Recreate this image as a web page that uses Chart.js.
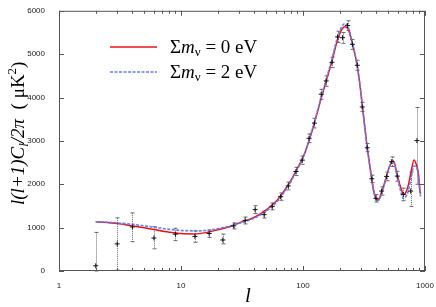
<!DOCTYPE html>
<html>
<head>
<meta charset="utf-8">
<script src="https://cdn.jsdelivr.net/npm/chart.js@4.4.1/dist/chart.umd.min.js"></script>
<style>
  body { margin: 0; background: #fff; }
  #wrap { width: 436px; height: 307px; }
</style>
</head>
<body>
<div id="wrap"><canvas id="cmbChart" width="436" height="307"></canvas></div>
<script>
// theory curves (multipole l and D_l in uK^2)
const curveL = [2, 3, 4, 5, 6, 8, 10, 13, 16, 20, 25, 30, 40, 50, 60, 70, 80, 90, 100, 112, 125, 141, 155, 173, 192, 207, 220, 235, 251, 267, 280, 293, 306, 322, 336, 350, 366, 380, 396, 407, 420, 441, 463, 485, 510, 533, 543, 560, 593, 620, 644, 664, 690, 730, 770, 813, 850, 881, 910, 920];
const redVals = [1135, 1095, 1040, 995, 955, 895, 862, 855, 885, 950, 1020, 1110, 1240, 1410, 1600, 1845, 2100, 2370, 2620, 3000, 3450, 3980, 4380, 4850, 5330, 5560, 5630, 5570, 5300, 4990, 4680, 4290, 3830, 3290, 2850, 2500, 2130, 1850, 1680, 1640, 1660, 1820, 2000, 2200, 2400, 2520, 2540, 2500, 2210, 2000, 1860, 1760, 1790, 1980, 2300, 2560, 2450, 2270, 1850, 1780];
const blueVals = [1135, 1110, 1075, 1040, 1010, 960, 935, 925, 935, 975, 1035, 1100, 1220, 1380, 1570, 1815, 2075, 2350, 2610, 3010, 3470, 4010, 4420, 4900, 5400, 5630, 5700, 5620, 5320, 5000, 4690, 4290, 3820, 3270, 2830, 2480, 2100, 1820, 1650, 1620, 1640, 1790, 1980, 2190, 2400, 2520, 2530, 2480, 2160, 1930, 1760, 1670, 1700, 1850, 2150, 2420, 2400, 2200, 1800, 1720];

// measured band powers with error bars
const ptL  = [2, 3, 4, 6, 9, 13, 17, 22, 27, 33.5, 40.5, 48, 56, 65.6, 75.8, 87.7, 98.7, 112, 124, 141, 155, 173, 192, 211, 232, 254, 279, 306, 336, 366, 396, 441, 485, 533, 593, 664, 763, 859];
const ptV  = [120, 625, 1015, 760, 850, 797, 865, 715, 1040, 1165, 1415, 1300, 1490, 1715, 1962, 2294, 2556, 3060, 3410, 4076, 4383, 4812, 5398, 5380, 5662, 5227, 4744, 3783, 2842, 2127, 1676, 1843, 2181, 2520, 2188, 1766, 1843, 3007];
const ptLo = [0, 20, 677, 512, 700, 662, 775, 625, 970, 1085, 1325, 1220, 1410, 1630, 1870, 2200, 2460, 2960, 3300, 3960, 4260, 4690, 5270, 5250, 5550, 5110, 4630, 3680, 2750, 2040, 1590, 1750, 2080, 2410, 2070, 1620, 1490, 2000];
const ptHi = [890, 1225, 1340, 1022, 985, 925, 940, 850, 1110, 1245, 1505, 1380, 1570, 1800, 2050, 2390, 2650, 3160, 3520, 4190, 4500, 4930, 5530, 5500, 5770, 5340, 4860, 3890, 2940, 2210, 1760, 1940, 2280, 2630, 2300, 1910, 2280, 3770];

// axis ticks
const xTickVals = [1, 2, 3, 4, 5, 6, 7, 8, 9, 10, 20, 30, 40, 50, 60, 70, 80, 90, 100, 200, 300, 400, 500, 600, 700, 800, 900, 1000];
const xTickLabels = ['1', '10', '100', '1000'];
const yTickVals = [0, 1000, 2000, 3000, 4000, 5000, 6000];

const RED = 'rgb(232, 20, 20)';
const BLUE = 'rgb(95, 125, 245)';

function toXY(xs, ys) {
    return xs.map(function(x, i) { return { x: x, y: ys[i] }; });
}

// error bars under the points
const errorBars = {
    id: 'errorBars',
    beforeDatasetsDraw(chart) {
        const ctx = chart.ctx, x = chart.scales.x, y = chart.scales.y;
        ctx.save();
        ctx.strokeStyle = 'rgba(70, 70, 70, 0.8)';
        ctx.lineWidth = 1;
        for (let i = 0; i < ptL.length; i++) {
            const px = Math.round(x.getPixelForValue(ptL[i])) + 0.5;
            const top = y.getPixelForValue(ptHi[i]);
            const bot = y.getPixelForValue(ptLo[i]);
            ctx.setLineDash([1, 1]);
            ctx.beginPath();
            ctx.moveTo(px, top);
            ctx.lineTo(px, bot);
            ctx.stroke();
            ctx.setLineDash([]);
            ctx.beginPath();
            ctx.moveTo(px - 2, top); ctx.lineTo(px + 2, top);
            ctx.moveTo(px - 2, bot); ctx.lineTo(px + 2, bot);
            ctx.stroke();
        }
        ctx.restore();
    }
};

// frame, inward ticks, legend and axis titles
const decorations = {
    id: 'decorations',
    afterDraw(chart) {
        const ctx = chart.ctx, a = chart.chartArea;
        const x = chart.scales.x, y = chart.scales.y;
        ctx.save();
        ctx.strokeStyle = '#555';
        ctx.lineWidth = 1;
        ctx.strokeRect(a.left + 0.5, a.top + 0.5, a.right - a.left - 1, a.bottom - a.top - 1);
        ctx.beginPath();
        x.ticks.forEach(function(t) {
            const px = Math.round(x.getPixelForValue(t.value)) + 0.5;
            const major = Math.abs(Math.log10(t.value) % 1) < 1e-9;
            const len = major ? 5 : 3;
            ctx.moveTo(px, a.bottom); ctx.lineTo(px, a.bottom - len);
            ctx.moveTo(px, a.top); ctx.lineTo(px, a.top + len);
        });
        y.ticks.forEach(function(t) {
            const py = Math.round(y.getPixelForValue(t.value)) + 0.5;
            ctx.moveTo(a.left, py); ctx.lineTo(a.left + 5, py);
            ctx.moveTo(a.right, py); ctx.lineTo(a.right - 5, py);
        });
        ctx.stroke();

        // legend
        const rows = [
            { color: RED, dash: [], text: '0 eV', y: 47 },
            { color: BLUE, dash: [3, 1.5], text: '2 eV', y: 72 }
        ];
        rows.forEach(function(r) {
            ctx.strokeStyle = r.color;
            ctx.lineWidth = 1.5;
            ctx.setLineDash(r.dash);
            ctx.beginPath();
            ctx.moveTo(110, r.y); ctx.lineTo(157, r.y);
            ctx.stroke();
            ctx.setLineDash([]);
            ctx.fillStyle = '#000';
            ctx.textBaseline = 'alphabetic';
            ctx.textAlign = 'left';
            let cx = 170;
            const base = r.y + 6;
            ctx.font = '19px "Liberation Serif"';
            ctx.fillText('\u03A3', cx, base); cx += ctx.measureText('\u03A3').width;
            ctx.font = 'italic 19px "Liberation Serif"';
            ctx.fillText('m', cx, base); cx += ctx.measureText('m').width;
            ctx.font = '13px "Liberation Serif"';
            ctx.fillText('\u03BD', cx, base + 3); cx += ctx.measureText('\u03BD').width;
            ctx.font = '19px "Liberation Serif"';
            ctx.fillText(' = ' + r.text, cx, base);
        });

        // x title
        ctx.font = 'italic 21px "Liberation Serif"';
        ctx.textAlign = 'center';
        ctx.fillText('l', 248, 302);

        // y title (rotated)
        ctx.translate(24, 205);
        ctx.rotate(-Math.PI / 2);
        ctx.textAlign = 'left';
        const parts = [
            { t: 'l(l+1)C', f: 'italic 19px "Liberation Serif"', dy: 0 },
            { t: 'l', f: 'italic 13px "Liberation Serif"', dy: 4 },
            { t: '/2\u03C0', f: 'italic 19px "Liberation Serif"', dy: 0 },
            { t: '  ( \u03BCK', f: '19px "Liberation Serif"', dy: 0 },
            { t: '2', f: '13px "Liberation Serif"', dy: -8 },
            { t: ')', f: '19px "Liberation Serif"', dy: 0 }
        ];
        let tx = 0;
        parts.forEach(function(p) {
            ctx.font = p.f;
            ctx.fillText(p.t, tx, p.dy);
            tx += ctx.measureText(p.t).width;
        });
        ctx.restore();
    }
};

const ctx = document.getElementById('cmbChart').getContext('2d');
new Chart(ctx, {
    type: 'scatter',
    data: {
        datasets: [
            {
                label: 'data',
                data: toXY(ptL, ptV),
                pointStyle: 'cross',
                pointRadius: 2.5,
                borderColor: '#111',
                borderWidth: 1,
                showLine: false,
                order: 0
            },
            {
                label: '\u03A3m\u03BD = 2 eV',
                data: toXY(curveL, blueVals),
                showLine: true,
                borderColor: BLUE,
                borderWidth: 1.6,
                borderDash: [3, 1.5],
                pointRadius: 0,
                cubicInterpolationMode: 'monotone',
                order: 1
            },
            {
                label: '\u03A3m\u03BD = 0 eV',
                data: toXY(curveL, redVals),
                showLine: true,
                borderColor: RED,
                borderWidth: 1.5,
                pointRadius: 0,
                cubicInterpolationMode: 'monotone',
                order: 2
            }
        ]
    },
    options: {
        responsive: false,
        animation: false,
        layout: { padding: { top: 5, right: 11, left: 0, bottom: 0 } },
        plugins: {
            legend: { display: false },
            tooltip: { enabled: false }
        },
        scales: {
            x: {
                type: 'logarithmic',
                min: 1,
                max: 1000,
                afterBuildTicks: function(s) {
                    s.ticks = xTickVals.map(function(v) { return { value: v }; });
                },
                afterFit: function(s) { s.height = 36; },
                grid: { display: false },
                border: { display: false },
                ticks: {
                    autoSkip: false,
                    maxRotation: 0,
                    padding: 2,
                    color: '#222',
                    font: { family: 'Liberation Sans', size: 8 },
                    callback: function(v) {
                        const i = [1, 10, 100, 1000].indexOf(v);
                        return i >= 0 ? xTickLabels[i] : '';
                    }
                }
            },
            y: {
                min: 0,
                max: 6000,
                afterBuildTicks: function(s) {
                    s.ticks = yTickVals.map(function(v) { return { value: v }; });
                },
                afterFit: function(s) { s.width = 59; },
                grid: { display: false },
                border: { display: false },
                ticks: {
                    padding: 6,
                    color: '#222',
                    font: { family: 'Liberation Sans', size: 8 },
                    callback: function(v) { return String(v); }
                }
            }
        }
    },
    plugins: [errorBars, decorations]
});
</script>
</body>
</html>
